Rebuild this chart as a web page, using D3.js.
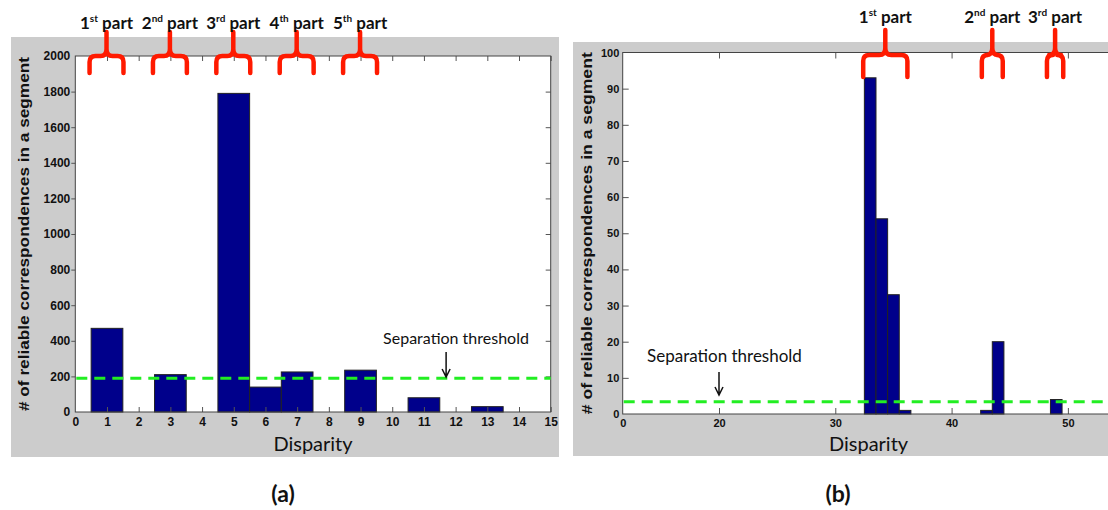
<!DOCTYPE html>
<html>
<head>
<meta charset="utf-8">
<script src="https://cdn.jsdelivr.net/npm/d3@7"></script>
<style>
  body { margin: 0; background: #fff; }
  svg { display: block; }
  .tick line { stroke: #555; }
</style>
</head>
<body>
<script>
// panel (a)
const dispA = [1, 3, 5, 6, 7, 9, 11, 13];
const countA = [470, 210, 1790, 140, 225, 235, 80, 30];
const thresholdA = 190;
const partsA = ['1st', '2nd', '3rd', '4th', '5th'];
const partRangeA = [[0.45, 1.52], [2.45, 3.52], [4.45, 5.52], [6.45, 7.52], [8.45, 9.52]];
const yTicksA = [0, 200, 400, 600, 800, 1000, 1200, 1400, 1600, 1800, 2000];

// panel (b)
const dispB = [33, 34, 35, 36, 43, 44, 49];
const countB = [93, 54, 33, 1, 1, 20, 4];
const thresholdB = 3.4;
const partsB = ['1st', '2nd', '3rd'];
const partRangeB = [[32.4, 36.2], [42.6, 44.4], [48.2, 49.6]];
const xTicksB = [0, 20, 30, 40, 50];
const yTicksB = [0, 10, 20, 30, 40, 50, 60, 70, 80, 90, 100];

const width = 1108, height = 510;
const svg = d3.select('body').append('svg')
    .attr('width', width)
    .attr('height', height);

const barColor = '#00008b';
const green = '#22ee22';
const calibri = 'Lato, "Open Sans", sans-serif';

function bracePath(x0, x1, yTip, yBar, yBot) {
    let xm = (x0 + x1) / 2;
    return `M${x0},${yBot} L${x0},${yBar + 6} Q${x0},${yBar} ${x0 + 6},${yBar}` +
        ` L${xm - 6},${yBar} Q${xm},${yBar} ${xm},${yBar - 7} L${xm},${yTip}` +
        ` M${x1},${yBot} L${x1},${yBar + 6} Q${x1},${yBar} ${x1 - 6},${yBar}` +
        ` L${xm + 6},${yBar} Q${xm},${yBar} ${xm},${yBar - 7}`;
}

function drawPanel(cfg) {
    let g = svg.append('g');
    let x = cfg.x, y = cfg.y;
    let xr = x.range();
    let l = xr[0], r = xr[xr.length - 1];
    let [b, t] = y.range();

    g.append('rect')
        .attr('x', cfg.panel[0]).attr('y', cfg.panel[1])
        .attr('width', cfg.panel[2] - cfg.panel[0]).attr('height', cfg.panel[3] - cfg.panel[1])
        .attr('fill', '#cccccc');
    g.append('rect')
        .attr('x', l).attr('y', t)
        .attr('width', r - l).attr('height', b - t)
        .attr('fill', '#fff');

    // bars
    g.selectAll('.bar')
        .data(cfg.disp)
        .join('rect')
        .attr('class', 'bar')
        .attr('x', d => x(d - 0.5))
        .attr('width', d => x(d + 0.5) - x(d - 0.5))
        .attr('y', (d, i) => y(cfg.count[i]))
        .attr('height', (d, i) => b - y(cfg.count[i]))
        .attr('fill', barColor)
        .attr('stroke', '#222')
        .attr('stroke-width', 1);

    // axes
    let fmt = d3.format('d');
    let xb = g.append('g').attr('transform', `translate(0,${b})`)
        .call(d3.axisBottom(x).tickValues(cfg.xTicks).tickFormat(fmt).tickSize(-cfg.tick).tickPadding(cfg.xPad));
    let xt = g.append('g').attr('transform', `translate(0,${t})`)
        .call(d3.axisTop(x).tickValues(cfg.xTicks.filter(v => v > 0)).tickSize(-cfg.tick).tickFormat(''));
    let yl = g.append('g').attr('transform', `translate(${l},0)`)
        .call(d3.axisLeft(y).tickValues(cfg.yTicks).tickFormat(fmt).tickSize(cfg.yTick).tickPadding(cfg.yPad));
    let yr = g.append('g').attr('transform', `translate(${r},0)`)
        .call(d3.axisRight(y).tickValues(cfg.yTicks).tickSize(-cfg.tick).tickFormat(''));
    [xb, xt, yl, yr].forEach(a => {
        a.select('.domain').remove();
        a.selectAll('.tick text')
            .attr('font-family', '"Liberation Sans", Arial, sans-serif')
            .attr('font-weight', 'bold')
            .attr('font-size', cfg.tickFont)
            .attr('fill', '#111');
    });
    yl.selectAll('.tick line').filter(d => d === 0 || d === cfg.yTicks[cfg.yTicks.length - 1]).remove();
    yr.selectAll('.tick line').filter(d => d === 0 || d === cfg.yTicks[cfg.yTicks.length - 1]).remove();
    xb.selectAll('.tick line').filter(d => d === 0).remove();

    g.append('rect')
        .attr('x', l).attr('y', t)
        .attr('width', r - l).attr('height', b - t)
        .attr('fill', 'none')
        .attr('stroke', '#444')
        .attr('stroke-width', 1);

    // threshold
    g.append('line')
        .attr('x1', l + 1).attr('x2', r)
        .attr('y1', y(cfg.threshold)).attr('y2', y(cfg.threshold))
        .attr('stroke', green)
        .attr('stroke-width', 3)
        .attr('stroke-dasharray', '11,7');

    // annotation
    g.append('text')
        .attr('x', cfg.sepText[0]).attr('y', cfg.sepText[1])
        .attr('text-anchor', cfg.sepText[2])
        .attr('font-family', calibri)
        .attr('font-size', cfg.sepFont)
        .attr('fill', '#111')
        .text('Separation threshold');
    let ax = x(cfg.arrow[0]);
    g.append('path')
        .attr('d', `M${ax},${cfg.arrow[1]} L${ax},${cfg.arrow[2]} M${ax - 4},${cfg.arrow[2] - 8} L${ax},${cfg.arrow[2]} L${ax + 4},${cfg.arrow[2] - 8}`)
        .attr('fill', 'none')
        .attr('stroke', '#111')
        .attr('stroke-width', 1.5);

    // axis titles
    g.append('text')
        .attr('x', (l + r) / 2 + cfg.xTitleShift).attr('y', cfg.xTitleY)
        .attr('text-anchor', 'middle')
        .attr('font-family', calibri)
        .attr('font-size', 20)
        .attr('fill', '#111')
        .text('Disparity');
    g.append('text')
        .attr('transform', `translate(${cfg.yTitleX},${(t + b) / 2}) rotate(-90)`)
        .attr('text-anchor', 'middle')
        .attr('font-family', '"Liberation Sans", Arial, sans-serif')
        .attr('font-weight', 'bold')
        .attr('font-size', 15)
        .attr('fill', '#111')
        .attr('textLength', cfg.yTitleLen)
        .attr('lengthAdjust', 'spacingAndGlyphs')
        .text('# of reliable correspondences in a segment');

    // part braces and labels
    cfg.parts.forEach((p, i) => {
        let x0 = x(cfg.partRange[i][0]), x1 = x(cfg.partRange[i][1]);
        g.append('path')
            .attr('d', bracePath(x0, x1, cfg.brace[0], cfg.brace[1], cfg.brace[2]))
            .attr('fill', 'none')
            .attr('stroke', '#ff1a00')
            .attr('stroke-width', 4.5)
            .attr('stroke-linecap', 'round')
            .attr('stroke-linejoin', 'round');
        let txt = g.append('text')
            .attr('x', (x0 + x1) / 2).attr('y', cfg.partY)
            .attr('text-anchor', 'middle')
            .attr('font-family', calibri)
            .attr('font-weight', 'bold')
            .attr('font-size', 17)
            .attr('fill', '#111');
        txt.append('tspan').text(p.slice(0, 1));
        txt.append('tspan').attr('dy', -7).attr('font-size', 10).text(p.slice(1));
        txt.append('tspan').attr('dy', 7).text(' part');
    });

    svg.append('text')
        .attr('x', cfg.label[0]).attr('y', 502)
        .attr('text-anchor', 'middle')
        .attr('font-family', calibri)
        .attr('font-weight', 'bold')
        .attr('font-size', 23)
        .attr('fill', '#111')
        .text(cfg.label[1]);
}

drawPanel({
    x: d3.scaleLinear().domain([0, 15]).range([75.3, 550.7]),
    y: d3.scaleLinear().domain([0, 2000]).range([412, 56]),
    panel: [11, 37, 559, 457],
    disp: dispA, count: countA, threshold: thresholdA,
    xTicks: d3.range(0, 16), yTicks: yTicksA,
    tick: 5, yTick: 4, xPad: 5, yPad: 1, tickFont: 12,
    sepText: [456, 344, 'middle'], sepFont: 16,
    arrow: [11.7, 352, 377],
    xTitleShift: 0, xTitleY: 451,
    yTitleX: 29, yTitleLen: 354,
    parts: partsA, partRange: partRangeA,
    brace: [32, 56, 73], partY: 29,
    label: [283, '(a)']
});

drawPanel({
    x: d3.scaleLinear().domain([0, 20, 54]).range([622.7, 719, 1114.4]),
    y: d3.scaleLinear().domain([0, 100]).range([414, 52.5]),
    panel: [573, 42, 1108, 456],
    disp: dispB, count: countB, threshold: thresholdB,
    xTicks: xTicksB, yTicks: yTicksB,
    tick: 6, yTick: -6, xPad: 5, yPad: 3.4, tickFont: 11,
    sepText: [647, 362, 'start'], sepFont: 17,
    arrow: [20, 372, 395],
    xTitleShift: 0, xTitleY: 451,
    yTitleX: 592, yTitleLen: 362,
    parts: partsB, partRange: partRangeB,
    brace: [30, 55, 77], partY: 23,
    label: [838, '(b)']
});
</script>
</body>
</html>
